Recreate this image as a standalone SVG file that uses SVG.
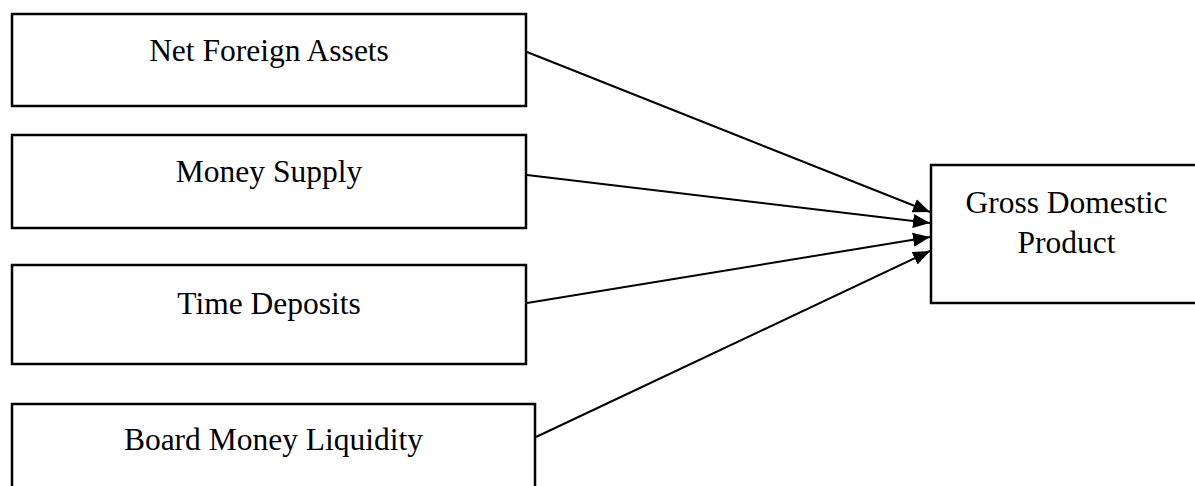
<svg xmlns="http://www.w3.org/2000/svg" width="1195" height="486" viewBox="0 0 1195 486">
<style>
.box{fill:#fff;stroke:#000;stroke-width:2.5}
.lbl{font-family:"Liberation Serif","Times New Roman",serif;font-size:31.5px;fill:#000;text-anchor:middle}
.edge{stroke:#000;stroke-width:2;fill:none}
</style>
<defs>
<marker id="arr" markerUnits="userSpaceOnUse" markerWidth="20" markerHeight="16" refX="17" refY="8" orient="auto">
<path d="M0,1 L17,8 L0,15 Z" fill="#000"/>
</marker>
</defs>
<rect width="1195" height="486" fill="#fff"/>
<g id="node-nfa">
<rect class="box" x="12" y="14" width="514" height="92"/>
<text class="lbl" x="269" y="61">Net Foreign Assets</text>
</g>
<g id="node-ms">
<rect class="box" x="12" y="135" width="514" height="93"/>
<text class="lbl" x="269" y="182">Money Supply</text>
</g>
<g id="node-td">
<rect class="box" x="12" y="265" width="514" height="99"/>
<text class="lbl" x="269" y="314">Time Deposits</text>
</g>
<g id="node-bml">
<rect class="box" x="12" y="404" width="523" height="100"/>
<text class="lbl" x="273.5" y="450">Board Money Liquidity</text>
</g>
<g id="node-gdp">
<rect class="box" x="931" y="165" width="272" height="138"/>
<text class="lbl" x="1066.5" y="213">Gross Domestic</text>
<text class="lbl" x="1066.5" y="253">Product</text>
</g>
<g id="connectors">
<line class="edge" x1="527" y1="52" x2="930" y2="212" marker-end="url(#arr)"/>
<line class="edge" x1="527" y1="175" x2="930" y2="223" marker-end="url(#arr)"/>
<line class="edge" x1="527" y1="303" x2="930" y2="237" marker-end="url(#arr)"/>
<line class="edge" x1="536" y1="437" x2="930" y2="251" marker-end="url(#arr)"/>
</g>
</svg>
